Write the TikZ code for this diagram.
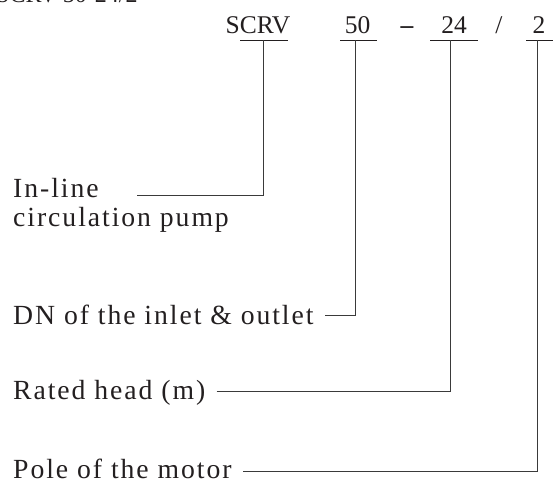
\documentclass[tikz,border=0pt]{standalone}
\usepackage{fontspec}
\setmainfont{Liberation Serif}
\newfontfamily\labfont{Liberation Serif}[LetterSpace=7]
\definecolor{ink}{HTML}{231F20}
\definecolor{wire}{HTML}{3A3A3A}
\begin{document}
\begin{tikzpicture}[x=1pt,y=-1pt,
  lbl/.style={anchor=base west, inner sep=0pt, text=ink, font=\labfont\fontsize{27.7}{28}\selectfont},
  code/.style={anchor=base, inner sep=0pt, text=ink, font=\fontsize{25.5}{29}\selectfont},
  wireline/.style={draw=wire, line width=0.85pt},
  uline/.style={draw=ink, line width=0.9pt}]
\useasboundingbox (0,0) rectangle (554,481);
% clipped title at the very top
\begin{scope}
\clip (0,0) rectangle (554,481);
\node[anchor=base west, inner sep=0pt, text=ink, font=\fontsize{24}{28}\selectfont] (title) at (-4,3) {SCRV 50-24/2};
\end{scope}
% code line
\node[code] (scrv) at (258,34) {SCRV};
\node[code] (n50) at (357.5,34) {50};
\node[code, font=\bfseries\fontsize{25.5}{29}\selectfont] (dash) at (407,34) {–};
\node[code] (n24) at (454,34) {24};
\node[code] (slash) at (499,34) {/};
\node[code] (n2) at (539,34) {2};
% underlines
\coordinate (uA1) at (240,40.5); \coordinate (uA2) at (288,40.5);
\coordinate (uB1) at (340,40.5); \coordinate (uB2) at (377,40.5);
\coordinate (uC1) at (430,40.5); \coordinate (uC2) at (478,40.5);
\coordinate (uD1) at (526,40.5); \coordinate (uD2) at (553,40.5);
\draw[uline] (uA1) -- (uA2);
\draw[uline] (uB1) -- (uB2);
\draw[uline] (uC1) -- (uC2);
\draw[uline] (uD1) -- (uD2);
\coordinate (tA) at (263,40.5);
\coordinate (tB) at (355,40.5);
\coordinate (tC) at (450.7,40.5);
\coordinate (tD) at (537.3,40.5);
% labels
\node[lbl] (pump) at (13,198) {In-line};
\node[lbl] (pump2) at (13,226) {circulation pump};
\node[lbl] (dn) at (13,324) {DN of the inlet \& outlet};
\node[lbl] (head) at (13,399.5) {Rated head (m)};
\node[lbl] (pole) at (13,478.5) {Pole of the motor};
% connector starts
\coordinate (sA) at (137,195);
\coordinate (sB) at (325,315);
\coordinate (sC) at (216.7,391.7);
\coordinate (sD) at (243,471);
\draw[wireline] (sA) -| (tA);
\draw[wireline] (sB) -| (tB);
\draw[wireline] (sC) -| (tC);
\draw[wireline] (sD) -| (tD);
\end{tikzpicture}
\end{document}
